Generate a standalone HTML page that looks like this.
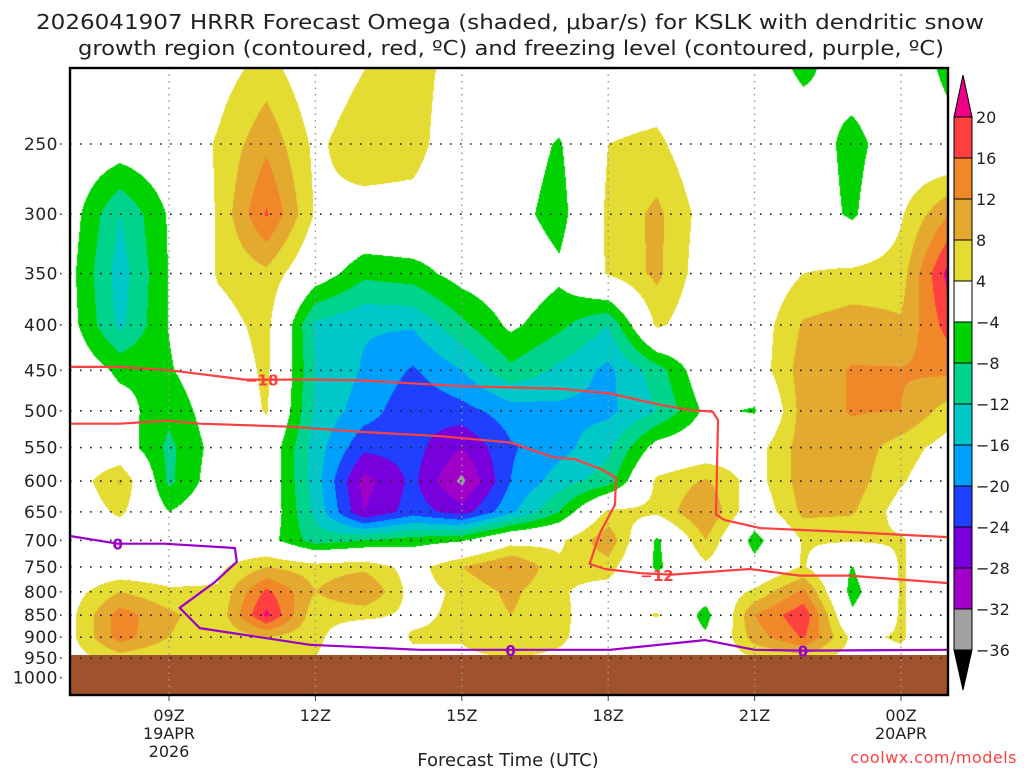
<!DOCTYPE html>
<html><head><meta charset="utf-8">
<style>
html,body{margin:0;padding:0;background:#fff;}
#wrap{position:relative;width:1024px;height:768px;overflow:hidden;}
canvas{position:absolute;left:0;top:0;}
svg{position:absolute;left:0;top:0;}
text{font-family:"DejaVu Sans","Liberation Sans",sans-serif;fill:#222;}
</style></head>
<body>
<div id="wrap">
<canvas id="cv" width="1024" height="768"></canvas>
<svg id="sv" width="1024" height="768"></svg>
</div>
<script>
// ---- data ----
const hours=[7,8,9,10,11,12,13,14,15,16,17,18,19,20,21,22,23,24,25];
const pressures=[200,250,300,350,400,450,500,550,600,650,700,750,800,850,900,950];
const omega200=[0,0,0,1.5,5,0,3.5,6,2,0,2,0,0,0,0,-6,0,0,-6];
const omega250=[0,-1,0,4.5,11,3,7,6,0,-1,-4.5,4,5,0,0,0,-6,0,-2];
const omega300=[-2,-12,-3.5,4.5,16.5,3.5,2,2,0,-2,-6,5,9,2,0,0,-5,3.5,12];
const omega350=[-3,-14,-3.8,4.5,7,-1,-7,-6,-2,0,-3,4.5,9,1,0,4,5,6,22];
const omega400=[-2.5,-13,-3.8,2,5.5,-13,-15.5,-15.5,-9,-3,-7,-12,5,0,1,8.5,10,8.5,18];
const omega450=[0,-5,-4.5,0,5,-12,-16.5,-20.5,-16,-9,-13,-17,-10,0,1,10,12.3,12.3,13];
const omega500=[0,-2,-7,-1,4.5,-13,-18,-23,-21.5,-18,-17,-17,-12,-3,-4.5,10,12.3,12,6];
const omega550=[0,-1,-9,-2,0,-14,-23,-22.5,-28,-20.5,-17.5,-13,-2,0,2,10,10.5,6,2];
const omega600=[0.5,8.5,-9,-1,0,-14,-29.5,-23,-33,-20,-14,-10,5,8.5,2,10,10,4.5,0];
const omega650=[0,5,-4,0,0,-13,-28,-22,-26,-17,-8,5,5,12.2,0,9,8.5,2,0];
const omega700=[0,0,0,0,-2,-10,-8,-6,-4.5,2,3,11,-5,8,-6,4.5,4.5,4.5,0];
const omega750=[0,0,0,3,8,6,7,2,8,12.5,5,6,-5,3,-2,4.5,-4.2,4.5,0];
const omega800=[2,8,5,4.5,17,8,12.5,2,5,9,4.5,2,0,-1,5,13,-6,4.5,0];
const omega850=[3,14,9,5,21,5,5,3,5,8,5,1,4.5,-6,12,19,-3,4.5,0];
const omega900=[3,14,8,4.5,8,5,0,4.5,4.5,8,5,0,0,-3,10,16.5,3,4.5,0];
const omega950=[2,6,4,4,4,4,0,3,3,4,3,0,0,0,4,6,2,3,0];
const levelBounds=[20,16,12,8,4,-4,-8,-12,-16,-20,-24,-28,-32,-36];
const levelLabels=["20","16","12","8","4","\u22124","\u22128","\u221212","\u221216","\u221220","\u221224","\u221228","\u221232","\u221236"];
const yTickPressures=[250,300,350,400,450,500,550,600,650,700,750,800,850,900,950,1000];
const xTickHours=[9,12,15,18,21,24];
const xTickLabels=["09Z","12Z","15Z","18Z","21Z","00Z"];
const isoMinus18=[[6.97,446],[8,446],[9.02,450],[10.56,461],[11.48,461],[12,461],[12.92,462],[15,469],[17,472],[18.04,478],[19.06,492],[19.67,499],[20.14,501],[20.25,512],[20.21,655],[20.39,664],[21.11,678],[22.95,685],[24.96,694]];
const isoMinus12=[[6.97,517],[8,517],[8.96,513],[9.64,517],[11.48,521],[12.92,528],[14.56,534],[16,543],[16.87,564],[17.33,567],[17.89,583],[18.16,595],[18.14,638],[17.83,687],[17.62,744],[17.93,754],[18.65,762],[19.3,765],[20.9,754],[21.92,767],[22.95,767],[24.96,782]];
const isoZero=[[6.97,692],[7.95,706],[8.9,706],[10.35,714],[10.39,740],[9.94,780],[9.22,834],[9.63,879],[11.89,918],[14.14,930],[16,930],[18.04,930],[19.98,907],[21,930],[21.99,932],[24.96,930]];
const labelsMinus18=[[10.9,461,"\u221218"]];
const labelsMinus12=[[19.0,766,"\u221212"]];
const labelsZero=[[7.95,706,"0"],[16,930,"0"],[21.99,932,"0"]];

const omega=[omega200,omega250,omega300,omega350,omega400,omega450,omega500,omega550,omega600,omega650,omega700,omega750,omega800,omega850,omega900,omega950];
const colors=["#ee0088","#ff4040","#f0882a","#e4aa30","#e4dc32","#ffffff","#00d200","#00d48c","#00c8c8","#00a0ff","#2040ff","#7800dc","#a000c8","#a0a0a0","#000000"];
const PL=70,PR=948,PT=68,PB=695,GROUND=655;
function xOf(h){return 71.4+(h-7)*48.8;}
function yOf(p){return 144+385*Math.log(p/250);}
function colorFor(v){for(let i=0;i<levelBounds.length;i++){if(v>=levelBounds[i])return colors[i];}return colors[colors.length-1];}
function hexRGB(c){return [parseInt(c.substr(1,2),16),parseInt(c.substr(3,2),16),parseInt(c.substr(5,2),16)];}

// ---- shading ----
const cv=document.getElementById('cv');const ctx=cv.getContext('2d');
ctx.fillStyle='#fff';ctx.fillRect(0,0,1024,768);
const img=ctx.createImageData(PR-PL,GROUND-PT);
const rowY=pressures.map(yOf);
const colX=hours.map(xOf);
for(let py=PT;py<GROUND;py++){
  const yy=py+0.5;let j=0;
  while(j<rowY.length-2&&yy>rowY[j+1])j++;
  let fy=(yy-rowY[j])/(rowY[j+1]-rowY[j]);fy=Math.max(0,Math.min(1,fy));
  for(let px=PL;px<PR;px++){
    const xx=px+0.5;let i=0;
    while(i<colX.length-2&&xx>colX[i+1])i++;
    let fx=(xx-colX[i])/(colX[i+1]-colX[i]);fx=Math.max(0,Math.min(1,fx));
    const a=omega[j][i],b=omega[j][i+1],c=omega[j+1][i],d=omega[j+1][i+1];
    const v=(a*(1-fx)+b*fx)*(1-fy)+(c*(1-fx)+d*fx)*fy;
    const rgb=hexRGB(colorFor(v));
    const k=((py-PT)*(PR-PL)+(px-PL))*4;
    img.data[k]=rgb[0];img.data[k+1]=rgb[1];img.data[k+2]=rgb[2];img.data[k+3]=255;
  }
}
ctx.putImageData(img,PL,PT);

// ---- svg overlay ----
const NS='http://www.w3.org/2000/svg';const sv=document.getElementById('sv');
function mk(tag,attrs,parent){const e=document.createElementNS(NS,tag);for(const k in attrs)e.setAttribute(k,attrs[k]);(parent||sv).appendChild(e);return e;}

const ground=mk('rect',{x:PL,y:GROUND,width:PR-PL,height:PB-GROUND,fill:'#a0522d'});



// grid
yTickPressures.forEach(function(p){
  const y=yOf(p);
  if(p<=950){
    const gl=mk('line',{x1:PL,x2:PR,y1:y,y2:y,stroke:'#222','stroke-width':1.6,'stroke-dasharray':'1.6 8.4'});
    
    
  }
  const tk=mk('line',{x1:PL-10,x2:PL,y1:y,y2:y,stroke:'#444','stroke-width':1.6,'stroke-dasharray':'1.6 8.4'});
  
  
  const t=mk('text',{x:58,y:y+6,'text-anchor':'end','font-size':17,'letter-spacing':'0.5'});
  t.textContent=String(p);
  
  
});
xTickHours.forEach(function(h,i){
  const x=xOf(h);
  const gl=mk('line',{x1:x,x2:x,y1:PT,y2:PB,stroke:'#999','stroke-width':1.4,'stroke-dasharray':'1.5 5'});
  
  
  const tk=mk('line',{x1:x,x2:x,y1:PB,y2:PB+6,stroke:'#444','stroke-width':1});
  
  
  const t=mk('text',{x:x,y:721,'text-anchor':'middle','font-size':16,'font-family':'DejaVu Sans Condensed, DejaVu Sans, sans-serif'});
  t.textContent=xTickLabels[i];
  
  
});

// isotherm lines
function drawLine(pts,color,name){
  const d=pts.map(function(q,i){return (i?'L':'M')+xOf(q[0]).toFixed(1)+' '+yOf(q[1]).toFixed(1);}).join(' ');
  const pl=mk('path',{d:d,fill:'none',stroke:color,'stroke-width':2.2,'stroke-linejoin':'round'});
  
  
}
function drawLabels(arr,color,name){
  arr.forEach(function(q){
    const t=mk('text',{x:xOf(q[0]),y:yOf(q[1])+6,'text-anchor':'middle','font-size':15,'font-weight':'bold',fill:color,style:'fill:'+color});
    t.textContent=q[2];
    
    
  });
}
drawLine(isoMinus18,'#ff4040','isotherm-minus18');
drawLine(isoMinus12,'#ff4040','isotherm-minus12');
drawLine(isoZero,'#9900cc','freezing-level-line');
drawLabels(labelsMinus18,'#ff4040','isotherm-label-minus18');
drawLabels(labelsMinus12,'#ff4040','isotherm-label-minus12');
drawLabels(labelsZero,'#9900cc','freezing-level-label');

// frame
const fr=mk('rect',{x:PL,y:PT,width:PR-PL,height:PB-PT,fill:'none',stroke:'#000','stroke-width':2.4});



// colorbar
const CBX=954,CBW=18,CBT=117,CBH=41;
for(let i=0;i<levelBounds.length-1;i++){
  const r=mk('rect',{x:CBX,y:CBT+i*CBH,width:CBW,height:CBH,fill:colors[i+1],stroke:'#000','stroke-width':1});
  
  
}
const ttop=mk('polygon',{points:(CBX)+','+CBT+' '+(CBX+CBW)+','+CBT+' '+(CBX+CBW/2)+',75',fill:colors[0],stroke:'#000','stroke-width':1});


const cbBottom=CBT+(levelBounds.length-1)*CBH;
const tbot=mk('polygon',{points:(CBX)+','+cbBottom+' '+(CBX+CBW)+','+cbBottom+' '+(CBX+CBW/2)+',690',fill:'#000',stroke:'#000','stroke-width':1});


levelLabels.forEach(function(s,i){
  const t=mk('text',{x:976,y:CBT+i*CBH+6,'font-size':16});
  t.textContent=s;
  
  
});

// titles
const t1=mk('text',{x:510,y:29,'text-anchor':'middle','font-size':20,textLength:948,lengthAdjust:'spacingAndGlyphs'});
t1.textContent='2026041907 HRRR Forecast Omega (shaded, \u03bcbar/s) for KSLK with dendritic snow';


const t2=mk('text',{x:511,y:55,'text-anchor':'middle','font-size':20,textLength:866,lengthAdjust:'spacingAndGlyphs'});
t2.textContent='growth region (contoured, red, \u00baC) and freezing level (contoured, purple, \u00baC)';



const dl=[['19APR',169,739],['2026',169,757],['20APR',901,739]];
dl.forEach(function(q){
  const t=mk('text',{x:q[1],y:q[2],'text-anchor':'middle','font-size':16,'font-family':'DejaVu Sans Condensed, DejaVu Sans, sans-serif'});
  t.textContent=q[0];
  
  
});
const xt=mk('text',{x:508,y:766,'text-anchor':'middle','font-size':18,'font-family':'DejaVu Sans Condensed, DejaVu Sans, sans-serif'});
xt.textContent='Forecast Time (UTC)';


const cr=mk('text',{x:1017,y:763,'text-anchor':'end','font-size':16,style:'fill:#ff4040','letter-spacing':'0.5'});
cr.textContent='coolwx.com/models';


</script>
</body></html>
